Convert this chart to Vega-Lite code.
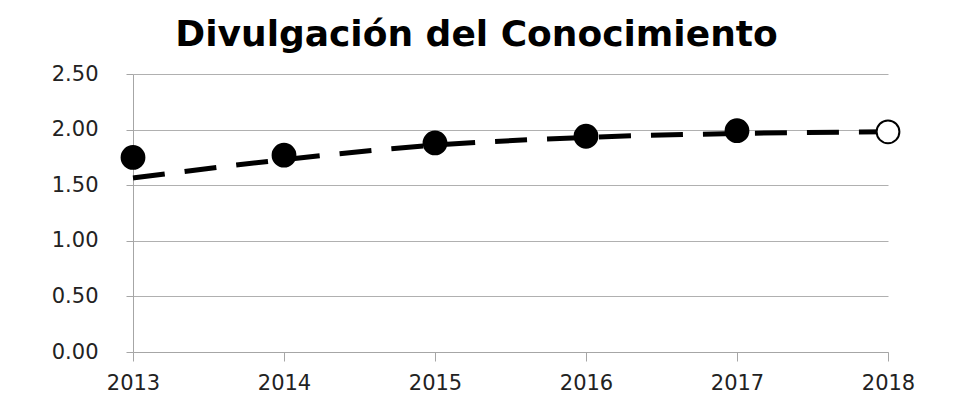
{
  "$schema": "https://vega.github.io/schema/vega-lite/v6.json",
  "width": 755,
  "height": 278,
  "autosize": {"type": "none"},
  "padding": {"left": 133, "right": 65, "top": 74, "bottom": 49},
  "background": "white",
  "title": {
    "text": "Divulgación del Conocimiento",
    "font": "DejaVu Sans",
    "fontSize": 36,
    "fontWeight": "bold",
    "color": "#000000",
    "anchor": "middle",
    "offset": 20,
    "baseline": "bottom",
    "dx": -34,
    "dy": 47
  },
  "config": {
    "view": {"stroke": null},
    "axis": {
      "labelFont": "DejaVu Sans",
      "labelFontSize": 21,
      "labelColor": "#222222",
      "domainColor": "#a6a6a6",
      "tickColor": "#a6a6a6",
      "gridColor": "#b0b0b0",
      "titleFontSize": 0
    }
  },
  "datasets": {
    "points": [
      {"year": 2013, "value": 1.75, "kind": "actual"},
      {"year": 2014, "value": 1.77, "kind": "actual"},
      {"year": 2015, "value": 1.88, "kind": "actual"},
      {"year": 2016, "value": 1.94, "kind": "actual"},
      {"year": 2017, "value": 1.99, "kind": "actual"},
      {"year": 2018, "value": 1.98, "kind": "projected"}
    ],
    "trend": [
      {"year": 2013, "trend": 1.565},
      {"year": 2014, "trend": 1.73},
      {"year": 2015, "trend": 1.86},
      {"year": 2016, "trend": 1.93},
      {"year": 2017, "trend": 1.965},
      {"year": 2018, "trend": 1.98}
    ]
  },
  "layer": [
    {
      "data": {"name": "trend"},
      "mark": {"type": "line", "color": "#000000", "strokeWidth": 5, "strokeDash": [32, 20], "interpolate": "monotone"},
      "encoding": {
        "x": {
          "field": "year", "type": "quantitative",
          "scale": {"domain": [2013, 2018], "nice": false, "zero": false},
          "axis": {"values": [2013, 2014, 2015, 2016, 2017, 2018], "format": "d", "grid": false, "tickSize": 9, "labelPadding": 11, "title": null, "labelFlush": false}
        },
        "y": {
          "field": "trend", "type": "quantitative",
          "scale": {"domain": [0, 2.5], "nice": false},
          "axis": {"values": [0, 0.5, 1, 1.5, 2, 2.5], "format": ".2f", "grid": true, "tickSize": 7, "labelPadding": 28, "title": null}
        }
      }
    },
    {
      "data": {"name": "points"},
      "mark": {"type": "point", "size": 520, "strokeWidth": 2},
      "encoding": {
        "x": {"field": "year", "type": "quantitative"},
        "y": {"field": "value", "type": "quantitative"},
        "fill": {"field": "kind", "type": "nominal", "scale": {"domain": ["actual", "projected"], "range": ["#000000", "#ffffff"]}, "legend": null},
        "stroke": {"value": "#000000"},
        "opacity": {"value": 1},
        "fillOpacity": {"value": 1}
      }
    }
  ]
}
